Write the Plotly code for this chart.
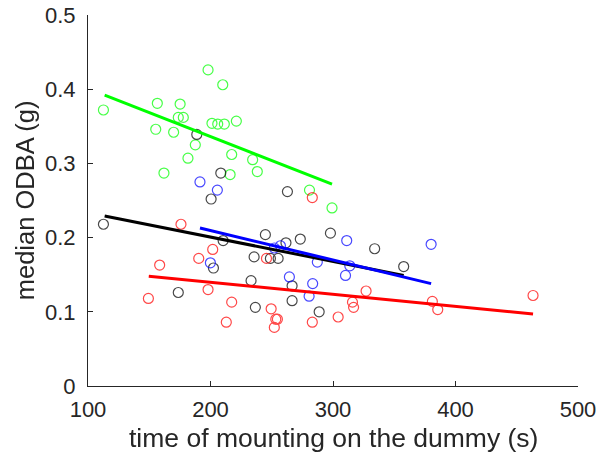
import plotly.graph_objects as go

# ---- data ----
green_x = [112.6, 156.6, 175.2, 155.3, 169.9, 173.7, 177.8, 187.6, 181.6, 162.0, 198.0, 210.0,
           201.2, 205.9, 211.3, 221.1, 217.3, 216.0, 234.4, 238.2, 280.8, 299.2]
green_y = [0.372, 0.381, 0.380, 0.346, 0.342, 0.362, 0.362, 0.325, 0.307, 0.287, 0.426, 0.406,
           0.354, 0.353, 0.353, 0.357, 0.312, 0.285, 0.305, 0.289, 0.264, 0.240]

black_x = [112.6, 188.8, 208.4, 200.5, 262.8, 210.3, 202.4, 173.7, 244.8, 235.6, 248.9, 255.2,
           261.6, 273.3, 297.9, 334.0, 357.7, 233.1, 266.6, 266.6, 236.6, 288.7]
black_y = [0.218, 0.339, 0.287, 0.252, 0.262, 0.196, 0.159, 0.126, 0.204, 0.174, 0.172, 0.172,
           0.193, 0.198, 0.206, 0.185, 0.161, 0.142, 0.135, 0.115, 0.106, 0.100]

blue_x = [191.4, 205.6, 199.9, 252.1, 257.1, 264.4, 283.4, 287.2, 280.5, 311.2, 310.2, 313.7, 380.1]
blue_y = [0.275, 0.264, 0.166, 0.186, 0.189, 0.147, 0.138, 0.167, 0.121, 0.196, 0.149, 0.162, 0.191]

red_x = [149.3, 158.5, 175.9, 190.4, 201.8, 198.0, 217.3, 212.9, 245.7, 249.5, 252.1, 253.3,
         254.6, 283.1, 283.1, 304.2, 315.9, 316.8, 327.0, 381.1, 385.5, 463.3]
red_y = [0.118, 0.163, 0.218, 0.172, 0.184, 0.130, 0.113, 0.086, 0.172, 0.104, 0.079, 0.090,
         0.090, 0.254, 0.086, 0.093, 0.113, 0.106, 0.128, 0.114, 0.103, 0.122]

# fitted lines (endpoints)
green_fit_x = [113.6, 299.2]
green_fit_y = [0.392, 0.272]
black_fit_x = [113.6, 357.7]
black_fit_y = [0.229, 0.149]
blue_fit_x = [191.4, 380.1]
blue_fit_y = [0.213, 0.138]
red_fit_x = [149.6, 463.3]
red_fit_y = [0.148, 0.097]

x_ticks = [100, 200, 300, 400, 500]
y_ticks = [0, 0.1, 0.2, 0.3, 0.4, 0.5]
y_tick_text = ["0", "0.1", "0.2", "0.3", "0.4", "0.5"]

x_title = "time of mounting on the dummy (s)"
y_title = "median ODBA (g)"

groups = [
    (green_x, green_y, green_fit_x, green_fit_y, "#00ff00"),
    (black_x, black_y, black_fit_x, black_fit_y, "#000000"),
    (blue_x, blue_y, blue_fit_x, blue_fit_y, "#0000ff"),
    (red_x, red_y, red_fit_x, red_fit_y, "#ff0000"),
]

fig = go.Figure()
for gx, gy, fx, fy, col in groups:
    fig.add_trace(go.Scatter(
        x=gx, y=gy, mode="markers",
        marker=dict(symbol="circle-open", size=10, color=col, line=dict(width=1.2, color=col)),
        opacity=0.72, showlegend=False, hoverinfo="skip"))
for gx, gy, fx, fy, col in groups:
    fig.add_trace(go.Scatter(
        x=fx, y=fy, mode="lines", line=dict(color=col, width=3),
        showlegend=False, hoverinfo="skip"))

axis_col = "#262626"
font_family = "Liberation Sans, Arial, Helvetica, sans-serif"

fig.update_layout(
    width=608, height=457,
    margin=dict(l=88, r=30, t=15, b=70.5),
    paper_bgcolor="white", plot_bgcolor="white",
    font=dict(family=font_family, color=axis_col),
    annotations=[
        dict(text=x_title, xref="paper", yref="paper", x=0.5, y=-0.139,
             xanchor="center", yanchor="middle", showarrow=False,
             font=dict(size=26.5, color=axis_col)),
        dict(text=y_title, xref="paper", yref="paper", x=-0.129, y=0.5,
             xanchor="center", yanchor="middle", showarrow=False, textangle=-90,
             font=dict(size=25.5, color=axis_col)),
    ],
)
fig.update_xaxes(
    range=[100, 500], tickvals=x_ticks, ticktext=[str(v) for v in x_ticks],
    showgrid=False, zeroline=False, showline=True, linecolor=axis_col, linewidth=1,
    ticks="inside", ticklen=5, tickcolor=axis_col, tickwidth=1,
    tickfont=dict(size=22, color=axis_col), ticklabelstandoff=4,
    automargin=False,
)
fig.update_yaxes(
    range=[0, 0.5], tickvals=y_ticks, ticktext=y_tick_text,
    showgrid=False, zeroline=False, showline=True, linecolor=axis_col, linewidth=1,
    ticks="inside", ticklen=5, tickcolor=axis_col, tickwidth=1,
    tickfont=dict(size=22, color=axis_col), ticklabelstandoff=7,
    automargin=False,
)

# remove the default 8px page margin so the figure fills the window exactly
fig.write_html("out.html", config={"displayModeBar": False},
               post_script="document.body.style.margin='0';")
